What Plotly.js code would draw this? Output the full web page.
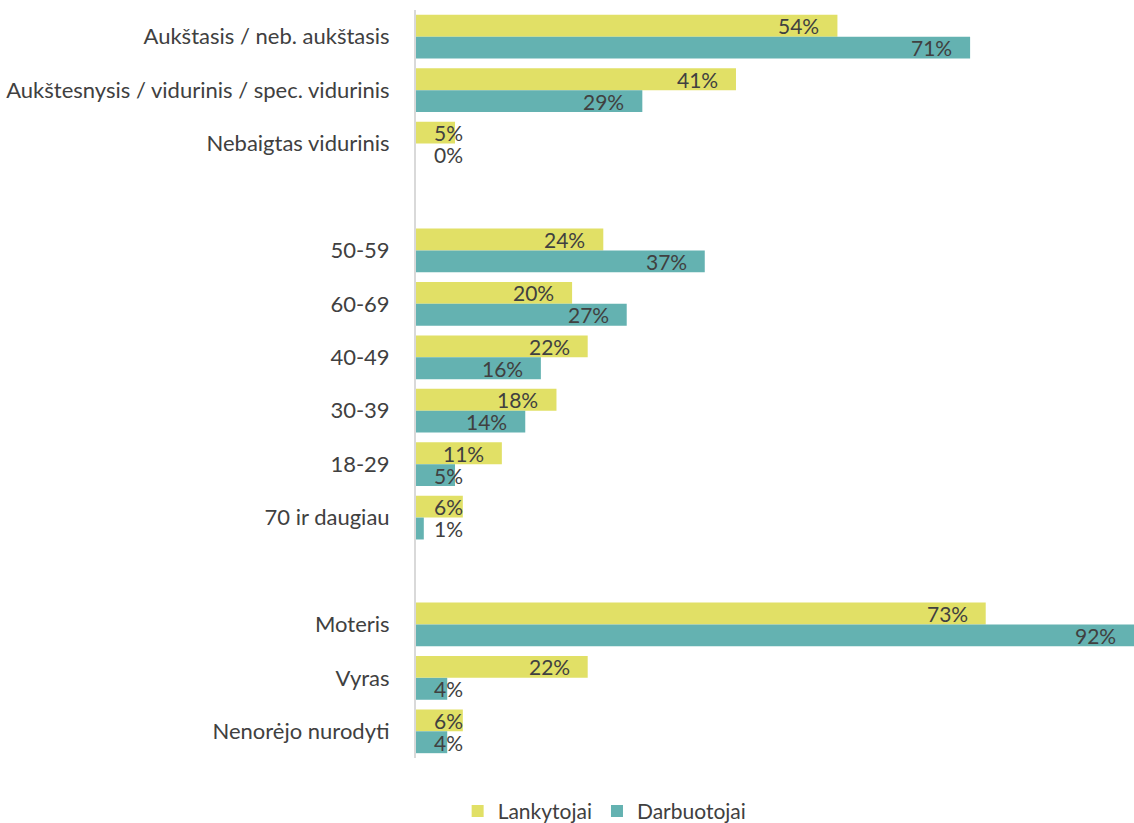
<!DOCTYPE html>
<html>
<head>
<meta charset="utf-8">
<script src="https://cdn.plot.ly/plotly-3.0.1.min.js"></script>
<style>html,body{margin:0;padding:0;background:#fff;}#chart{width:1134px;height:823px;}</style>
</head>
<body>
<div id="chart"></div>
<script>
const categories = [
  "Aukštasis / neb. aukštasis",
  "Aukštesnysis / vidurinis / spec. vidurinis",
  "Nebaigtas vidurinis",
  " ",
  "50-59",
  "60-69",
  "40-49",
  "30-39",
  "18-29",
  "70 ir daugiau",
  "  ",
  "Moteris",
  "Vyras",
  "Nenorėjo nurodyti"
];
const lankytojai = [54, 41, 5, null, 24, 20, 22, 18, 11, 6, null, 73, 22, 6];
const darbuotojai = [71, 29, 0, null, 37, 27, 16, 14, 5, 1, null, 92, 4, 4];
const seriesNames = ["Lankytojai", "Darbuotojai"];
const seriesColors = ["#E1E066", "#64B2B1"];

const FONT = "Lato, 'Open Sans', sans-serif";
const TXT = "#404040";

const traces = [lankytojai, darbuotojai].map((vals, i) => ({
  type: "bar",
  orientation: "h",
  name: seriesNames[i],
  y: categories,
  x: vals,
  marker: {color: seriesColors[i]},
  hoverinfo: "x+name"
}));

const annotations = [];
[lankytojai, darbuotojai].forEach((vals, s) => {
  vals.forEach((v, k) => {
    if (v === null) return;
    const big = v >= 8.2;
    annotations.push({
      x: big ? v : 0,
      y: categories[k],
      xref: "x", yref: "y",
      text: v + "%",
      showarrow: false,
      xanchor: big ? "right" : "left",
      xshift: big ? -16 : 16,
      yshift: s === 0 ? 11 : -11,
      font: {family: FONT, size: 21, color: TXT}
    });
  });
});

const layout = {
  width: 1134, height: 823,
  margin: {l: 416, r: 0, t: 10, b: 65, autoexpand: false},
  paper_bgcolor: "#fff", plot_bgcolor: "#fff",
  barmode: "group",
  bargap: 0.18,
  bargroupgap: 0,
  showlegend: true,
  legend: {
    orientation: "h",
    x: 0.058, xanchor: "left",
    y: -0.044, yanchor: "top",
    font: {family: FONT, size: 21, color: TXT},
    itemwidth: 30,
    traceorder: "normal"
  },
  xaxis: {
    range: [0, 92],
    showgrid: false, zeroline: false,
    showticklabels: false, showline: false, ticks: ""
  },
  yaxis: {
    type: "category",
    categoryorder: "array",
    categoryarray: categories,
    autorange: "reversed",
    showgrid: false, zeroline: false,
    showline: true, linecolor: "#D9D9D9", linewidth: 2,
    ticks: "", ticklabelstandoff: 20,
    tickfont: {family: FONT, size: 22, color: TXT}
  },
  annotations: annotations,
  font: {family: FONT, color: TXT}
};

Plotly.newPlot("chart", traces, layout, {displayModeBar: false, staticPlot: true});
</script>
</body>
</html>
